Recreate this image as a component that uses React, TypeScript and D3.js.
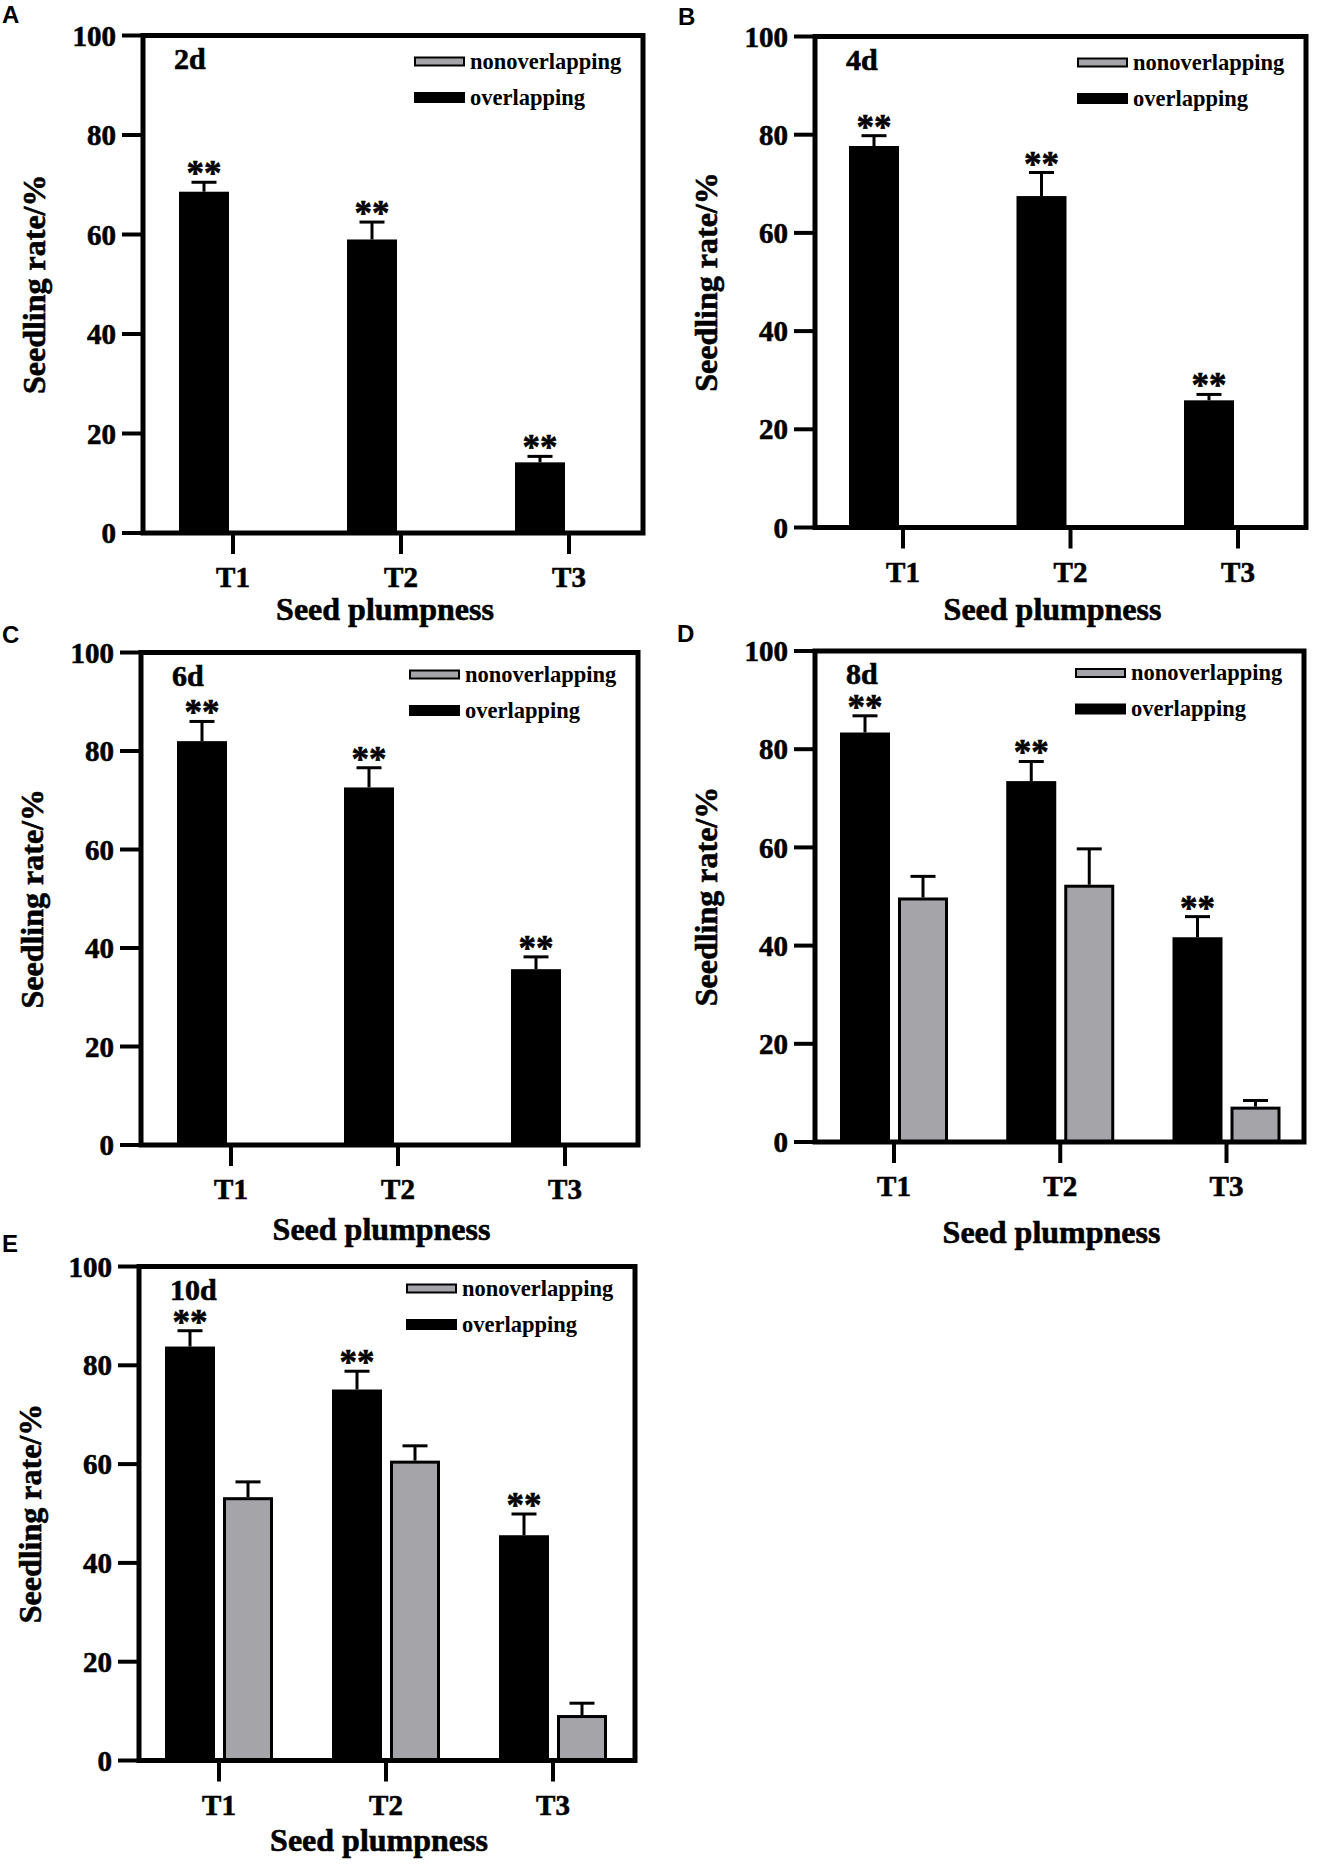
import * as d3 from "d3";

// ── Data ──────────────────────────────────────────────────────────────────────

const categories = ["T1", "T2", "T3"];
const seriesKeys = ["overlapping", "nonoverlapping"];
const dayLabels = ["2d", "4d", "6d", "8d", "10d"];
const panelLetters = ["A", "B", "C", "D", "E"];
const yTicks = [0, 20, 40, 60, 80, 100];

// overlapping (black) bar means and upper error per panel
const overlapMean = [
  [68.6, 59.0, 14.2],
  [77.7, 67.5, 25.9],
  [82.0, 72.6, 35.7],
  [83.4, 73.5, 41.7],
  [83.8, 75.1, 45.6],
];
const overlapErr = [
  [1.9, 3.5, 1.2],
  [2.1, 4.8, 1.2],
  [4.0, 4.0, 2.5],
  [3.4, 4.0, 4.2],
  [3.2, 3.7, 4.3],
];

// nonoverlapping (grey) bar means and upper error per panel
const nonoverlapMean = [
  [0, 0, 0],
  [0, 0, 0],
  [0, 0, 0],
  [49.8, 52.4, 7.2],
  [53.3, 60.7, 9.2],
];
const nonoverlapErr = [
  [0, 0, 0],
  [0, 0, 0],
  [0, 0, 0],
  [4.3, 7.3, 1.25],
  [3.1, 3.0, 2.4],
];

const sigMarks = ["**", "**", "**"];

// ── Layout ────────────────────────────────────────────────────────────────────

const FRAMES = [
  { left: 143, right: 643, top: 35.5, bottom: 533, padL: 90, padR: 74, legendDy: 26, titleDy: 87, lx: 2, ly: 23 },
  { left: 815, right: 1306, top: 36.5, bottom: 527.5, padL: 88, padR: 68, legendDy: 26, titleDy: 92, lx: 678, ly: 25 },
  { left: 141, right: 638, top: 652.5, bottom: 1145, padL: 90, padR: 73, legendDy: 22, titleDy: 95, lx: 2, ly: 643 },
  { left: 815, right: 1304, top: 651, bottom: 1142, padL: 79, padR: 77.5, legendDy: 22, titleDy: 101, lx: 677, ly: 642 },
  { left: 139, right: 635, top: 1266.5, bottom: 1760.5, padL: 80, padR: 82, legendDy: 22, titleDy: 90, lx: 2, ly: 1252 },
];

const SERIF = "'Liberation Serif', 'Times New Roman', Times, serif";
const SANS = "'Liberation Sans', Arial, Helvetica, sans-serif";
const GREY = "#a4a4a9";
const AXIS_W = 5;

// slight outline to give the heavier look of the original bold Times
const heavy = { stroke: "#000", strokeWidth: 0.6 };

function Panel({ idx }: { idx: number }) {
  const f = FRAMES[idx];
  const y = d3.scaleLinear().domain([0, 100]).range([f.bottom, f.top]);
  const x = d3
    .scalePoint<string>()
    .domain(categories)
    .range([f.left + f.padL, f.right - f.padR]);
  const inner = d3
    .scaleBand<string>()
    .domain(seriesKeys)
    .range([-54, 54])
    .paddingInner(2 - 108 / 58);
  const bw = inner.bandwidth();

  const series = [
    { key: "overlapping", mean: overlapMean[idx], err: overlapErr[idx], fill: "#000" },
    { key: "nonoverlapping", mean: nonoverlapMean[idx], err: nonoverlapErr[idx], fill: GREY },
  ];

  const legendX = f.right - 229;
  const legendY0 = f.top + f.legendDy;
  const mid = (f.top + f.bottom) / 2;

  return (
    <g>
      {/* panel letter */}
      <text x={f.lx} y={f.ly} fontFamily={SANS} fontWeight="bold" fontSize={24} fill="#000">
        {panelLetters[idx]}
      </text>

      {/* bars with upper error bars */}
      {series.map((s) =>
        categories.map((c, i) => {
          const v = s.mean[i];
          if (!v) return null;
          const bx = (x(c) as number) + (inner(s.key) as number);
          const cx = bx + bw / 2;
          const top = y(v);
          const errTop = y(v + s.err[i]);
          const isGrey = s.key === "nonoverlapping";
          return (
            <g key={s.key + c}>
              <line x1={cx} x2={cx} y1={top} y2={errTop} stroke="#000" strokeWidth={3} />
              <line x1={cx - 12.5} x2={cx + 12.5} y1={errTop} y2={errTop} stroke="#000" strokeWidth={3} />
              <rect
                x={isGrey ? bx + 1.5 : bx}
                y={isGrey ? top + 1.5 : top}
                width={isGrey ? bw - 3 : bw}
                height={isGrey ? y(0) - top - 1.5 : y(0) - top}
                fill={s.fill}
                stroke={isGrey ? "#000" : "none"}
                strokeWidth={3}
              />
              {!isGrey && (
                <text
                  x={cx}
                  y={errTop + 3}
                  textAnchor="middle"
                  fontFamily={SERIF}
                  fontWeight="bold"
                  fontSize={35}
                  fill="#000"
                  {...heavy}
                >
                  {sigMarks[i]}
                </text>
              )}
            </g>
          );
        })
      )}

      {/* frame */}
      <rect
        x={f.left}
        y={f.top}
        width={f.right - f.left}
        height={f.bottom - f.top}
        fill="none"
        stroke="#000"
        strokeWidth={AXIS_W}
      />

      {/* y ticks */}
      {yTicks.map((t) => (
        <g key={t}>
          <line x1={f.left - 21} x2={f.left} y1={y(t)} y2={y(t)} stroke="#000" strokeWidth={AXIS_W - 1} />
          <text
            x={f.left - 27}
            y={y(t)}
            dy="0.35em"
            textAnchor="end"
            fontFamily={SERIF}
            fontWeight="bold"
            fontSize={29}
            fill="#000"
            {...heavy}
          >
            {t}
          </text>
        </g>
      ))}

      {/* x ticks */}
      {categories.map((c) => (
        <g key={c}>
          <line
            x1={x(c)}
            x2={x(c)}
            y1={f.bottom}
            y2={f.bottom + 21}
            stroke="#000"
            strokeWidth={AXIS_W - 1}
          />
          <text
            x={x(c)}
            y={f.bottom + 54}
            textAnchor="middle"
            fontFamily={SERIF}
            fontWeight="bold"
            fontSize={29}
            fill="#000"
            {...heavy}
          >
            {c}
          </text>
        </g>
      ))}

      {/* axis titles */}
      <text
        transform={`translate(${f.left - 109},${mid}) rotate(-90)`}
        textAnchor="middle"
        dy="0.35em"
        fontFamily={SERIF}
        fontWeight="bold"
        fontSize={32}
        fill="#000"
        {...heavy}
      >
        Seedling rate/%
      </text>
      <text
        x={(f.left + f.right) / 2 - 8}
        y={f.bottom + f.titleDy}
        textAnchor="middle"
        fontFamily={SERIF}
        fontWeight="bold"
        fontSize={32}
        fill="#000"
        {...heavy}
      >
        Seed plumpness
      </text>

      {/* day label */}
      <text
        x={f.left + 31}
        y={f.top + 33}
        fontFamily={SERIF}
        fontWeight="bold"
        fontSize={30}
        fill="#000"
        {...heavy}
      >
        {dayLabels[idx]}
      </text>

      {/* legend */}
      <rect x={legendX + 1} y={legendY0 - 4} width={49} height={8} fill={GREY} stroke="#000" strokeWidth={2} />
      <text x={legendX + 56} y={legendY0 + 7} fontFamily={SERIF} fontWeight="bold" fontSize={22.5} fill="#000">
        nonoverlapping
      </text>
      <rect x={legendX} y={legendY0 + 36 - 5.5} width={51} height={11} fill="#000" />
      <text x={legendX + 56} y={legendY0 + 36 + 7} fontFamily={SERIF} fontWeight="bold" fontSize={22.5} fill="#000">
        overlapping
      </text>
    </g>
  );
}

export default function App() {
  return (
    <svg
      width={1318}
      height={1870}
      viewBox="0 0 1318 1870"
      style={{ position: "absolute", left: 0, top: 0, background: "#fff" }}
    >
      <rect width={1318} height={1870} fill="#fff" />
      {FRAMES.map((_, i) => (
        <Panel key={i} idx={i} />
      ))}
    </svg>
  );
}
